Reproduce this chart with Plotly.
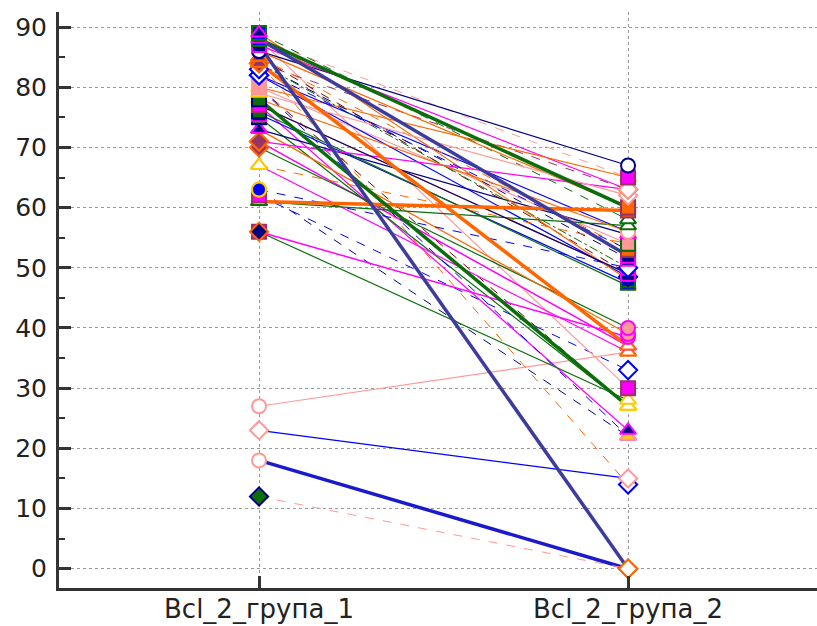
import plotly.graph_objects as go

categories = ["Bcl_2_група_1", "Bcl_2_група_2"]
y_ticks = [0, 10, 20, 30, 40, 50, 60, 70, 80, 90]

# paired values (group 1 -> group 2), one entry per series
group1 = [27, 23, 63, 62, 88, 71, 77, 75, 80, 80, 70, 73, 67,
          88, 86, 87, 84, 80, 82, 89, 86, 73, 80, 85, 84, 77, 82, 75.5, 76,
          71, 85, 84, 89, 63, 61, 67, 77, 79, 83, 78,
          56, 56, 84,
          61, 84, 78, 88, 88, 87, 18, 12]
group2 = [36, 15, 22, 33, 30, 37, 23, 27, 27, 22, 40, 39, 36,
          65, 67, 63, 63, 65, 56, 58, 60, 55.5, 54, 53, 51.5, 49, 48.5, 47.5, 47,
          63, 49, 50, 48, 50, 57, 54, 49, 62, 53, 56,
          38.5, 28, 14,
          59.5, 37, 27, 60, 52, 0, 0, 0]

# styles per series
NAVY, BLUE, SLATE = "#000080", "#0000FF", "#3C3C9C"
GREEN, ORANGE, MAGENTA = "#0B6E0B", "#FF6600", "#FF00FF"
PINK, DRED, YELLOW, PURPLE = "#FF9999", "#800000", "#FFCC00", "#993366"

line_color = [PINK, BLUE, NAVY, BLUE, PINK, MAGENTA, MAGENTA, GREEN, DRED, BLUE, GREEN, ORANGE, MAGENTA,
              PINK, NAVY, MAGENTA, PURPLE, ORANGE, BLUE, GREEN, ORANGE, NAVY, PINK, ORANGE, NAVY, ORANGE, BLUE, BLUE, GREEN,
              MAGENTA, DRED, GREEN, ORANGE, BLUE, GREEN, ORANGE, NAVY, PINK, BLUE, ORANGE,
              MAGENTA, GREEN, ORANGE,
              ORANGE, ORANGE, GREEN, GREEN, SLATE, SLATE, "#1A1ACC", PINK]
line_dash = ["solid", "solid", "dash", "dash", "solid", "solid", "solid", "solid", "dash", "dash", "solid", "solid", "solid",
             "dash", "solid", "solid", "dash", "solid", "solid", "dash", "solid", "solid", "solid", "dash", "dash", "solid", "solid", "solid", "solid",
             "solid", "dash", "dashdot", "solid", "dash", "solid", "dash", "solid", "solid", "dash", "solid",
             "solid", "solid", "dash",
             "solid", "solid", "solid", "solid", "solid", "solid", "solid", "dash"]
line_width = [1.2, 1.2, 1, 1, 1.2, 1.5, 1.2, 1.2, 1, 1, 1.2, 1.2, 1.2,
              1, 1.2, 1.2, 1, 1.2, 1.2, 1, 1.2, 1.2, 1.2, 1, 1, 1.2, 1.2, 1.2, 1.2,
              1.2, 1, 1, 1.2, 1, 1.2, 1, 1.2, 1.2, 1, 1.2,
              1.5, 1.2, 1,
              3.5, 3.5, 3.5, 3.5, 3.5, 3.5, 3.5, 1]

MARKERS = {
    "bsq": ("square", BLUE, GREEN),
    "ntri": ("triangle-up", NAVY, MAGENTA),
    "msq": ("square", MAGENTA, PURPLE),
    "ncirc_o": ("circle", "white", NAVY),
    "otri": ("triangle-up", PURPLE, ORANGE),
    "pdia": ("diamond", PURPLE, ORANGE),
    "bdia_o": ("diamond", "white", BLUE),
    "psq": ("square", PINK, PINK),
    "ytri_o": ("triangle-up", "white", YELLOW),
    "ocirc": ("circle", ORANGE, MAGENTA),
    "nsq": ("square", NAVY, MAGENTA),
    "gsq": ("square", GREEN, NAVY),
    "otri_o": ("triangle-up", "white", ORANGE),
    "bcirc": ("circle", BLUE, YELLOW),
    "gtri_o": ("triangle-up", "white", GREEN),
    "ndia": ("diamond", NAVY, ORANGE),
    "pkcirc_o": ("circle", "white", PINK),
    "pkdia_o": ("diamond", "white", PINK),
    "gdia": ("diamond", GREEN, NAVY),
    "odia_o": ("diamond", "white", ORANGE),
    "osq": ("square", ORANGE, PURPLE),
    "pkcirc": ("circle", PINK, MAGENTA),
    "ytri": ("triangle-up", YELLOW, PINK),
    "pksq": ("square", PINK, GREEN),
    "bdia": ("diamond", BLUE, NAVY),
}

marker1 = ["pkcirc_o", "pkdia_o", "bcirc", "msq", "msq", "pdia", "ocirc", "gsq", "psq", "ytri_o", "pdia", "ntri", "otri_o",
           "msq", "ncirc_o", "msq", "pdia", "psq", "bdia_o", "bsq", "ncirc_o", "ntri", "psq", "otri", "pdia", "ocirc", "bdia_o", "nsq", "gsq",
           "pdia", "otri", "otri", "ntri", "bcirc", "gtri_o", "ytri_o", "msq", "ytri_o", "bdia_o", "ytri_o",
           "msq", "ndia", "otri",
           "gtri_o", "otri", "gsq", "bsq", "ntri", "nsq", "pkcirc_o", "gdia"]
marker2 = ["otri_o", "pkdia_o", "ntri", "bdia_o", "msq", "ntri", "ntri", "ytri_o", "ytri_o", "ytri", "pkcirc", "pkcirc", "otri_o",
           "ytri_o", "ncirc_o", "pdia", "pdia", "msq", "pkcirc_o", "gtri_o", "osq", "ntri", "pksq", "osq", "nsq", "ocirc", "bdia", "bsq", "ytri",
           "pkdia_o", "ocirc", "nsq", "bsq", "bdia_o", "gtri_o", "pksq", "nsq", "pkdia_o", "osq", "pkcirc_o",
           "pkcirc", "ytri_o", "bdia_o",
           "osq", "otri_o", "ytri_o", "osq", "nsq", "odia_o", "odia_o", "odia_o"]

fig = go.Figure()
for i in range(len(group1)):
    fig.add_trace(go.Scatter(
        x=[0, 1], y=[group1[i], group2[i]], mode="lines",
        line=dict(color=line_color[i], dash=line_dash[i], width=line_width[i]),
        showlegend=False, hoverinfo="skip"))

for side, (vals, mk) in enumerate([(group1, marker1), (group2, marker2)]):
    order = sorted(range(len(vals)), key=lambda k: vals[k])
    fig.add_trace(go.Scatter(
        x=[side] * len(vals), y=[vals[k] for k in order], mode="markers",
        marker=dict(symbol=[MARKERS[mk[k]][0] for k in order],
                    color=[MARKERS[mk[k]][1] for k in order],
                    size=14,
                    line=dict(color=[MARKERS[mk[k]][2] for k in order], width=2)),
        showlegend=False, hoverinfo="skip"))

yfont = dict(family="DejaVu Sans", size=25, color="#222222")
xfont = dict(family="DejaVu Sans", size=26, color="#222222")

# category labels placed just under the axis so their descenders stay on the page
for i, cat in enumerate(categories):
    fig.add_annotation(x=i, xref="x", y=0, yref="paper", text=cat, showarrow=False,
                       yanchor="bottom", yshift=-37, font=xfont, borderpad=0)

fig.update_layout(
    width=817, height=626,
    margin=dict(l=59, r=0, t=12, b=38),
    plot_bgcolor="white", paper_bgcolor="white",
    showlegend=False,
    xaxis=dict(range=[-0.542, 1.512], tickvals=[0, 1], showticklabels=False,
               ticks="inside", ticklen=12, tickwidth=2.5, tickcolor="#333333",
               showline=True, linecolor="#333333", linewidth=3,
               showgrid=True, gridcolor="#999999", gridwidth=1, griddash="dot",
               zeroline=False, automargin=False),
    yaxis=dict(range=[-3.2, 92.5], tickvals=y_ticks,
               ticks="inside", ticklen=12, tickwidth=2.5, tickcolor="#333333",
               minor=dict(tickvals=[5, 15, 25, 35, 45, 55, 65, 75, 85], ticks="inside",
                          ticklen=6, tickwidth=1.5, tickcolor="#333333", showgrid=False),
               showline=True, linecolor="#333333", linewidth=3,
               showgrid=True, gridcolor="#999999", gridwidth=1, griddash="dot",
               zeroline=False, tickfont=yfont, automargin=False, ticklabelstandoff=4),
)

fig.write_html("out.html")
